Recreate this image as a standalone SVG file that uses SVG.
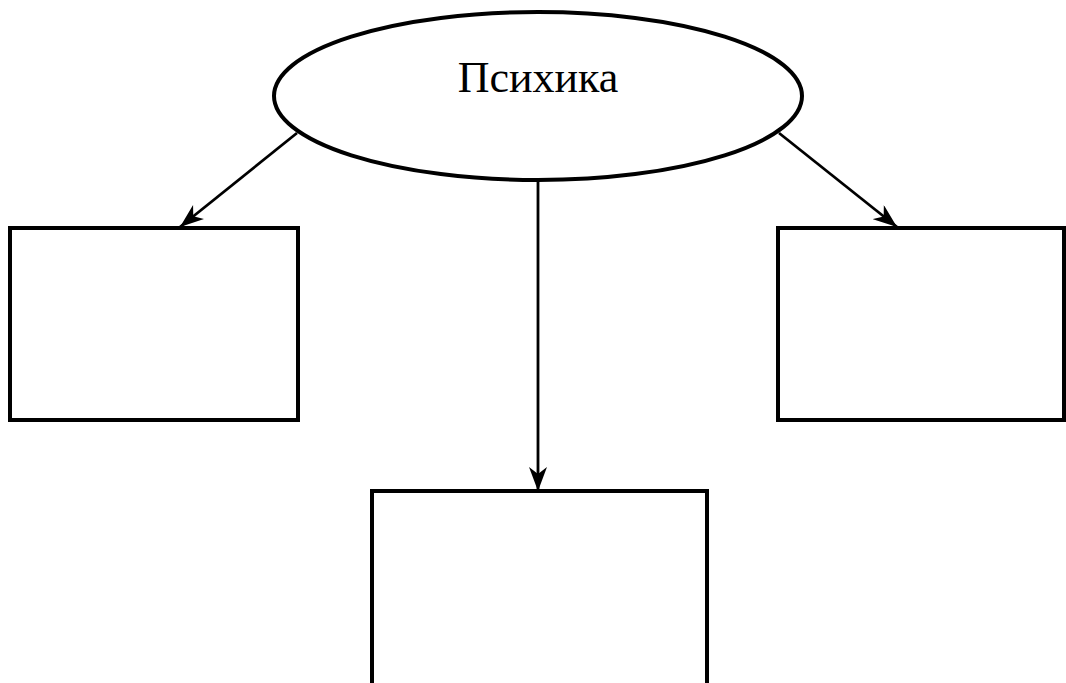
<svg xmlns="http://www.w3.org/2000/svg" width="1066" height="683" viewBox="0 0 1066 683">
<style>
.box{fill:#fff;stroke:#000;stroke-width:4}
.conn{fill:none;stroke:#000;stroke-width:2.8}
.lbl{font-family:"Liberation Serif","Times New Roman",serif;font-size:44px;fill:#000}
</style>
<defs>
<marker id="a2" viewBox="0 0 24 18" refX="24" refY="9" markerWidth="24" markerHeight="18" markerUnits="userSpaceOnUse" orient="auto">
<path d="M0,0 L24,9 L0,18 L7,9 Z" fill="#000"/>
</marker>
</defs>
<rect width="1066" height="683" fill="#fff"/>
<g id="connectors">
<line class="conn" x1="297" y1="133" x2="180" y2="227" marker-end="url(#a2)"/>
<line class="conn" x1="779" y1="133" x2="897" y2="227" marker-end="url(#a2)"/>
<line class="conn" x1="538" y1="180" x2="538" y2="491" marker-end="url(#a2)"/>
</g>
<g id="node-psyche">
<ellipse cx="538" cy="96" rx="264" ry="84" fill="#fff" stroke="#000" stroke-width="4"/>
<text class="lbl" x="538" y="92" text-anchor="middle">Психика</text>
</g>
<g id="node-left"><rect class="box" x="10" y="228" width="288" height="192"/></g>
<g id="node-right"><rect class="box" x="778" y="228" width="286" height="192"/></g>
<g id="node-bottom"><rect class="box" x="372" y="491" width="335" height="200"/></g>
</svg>
